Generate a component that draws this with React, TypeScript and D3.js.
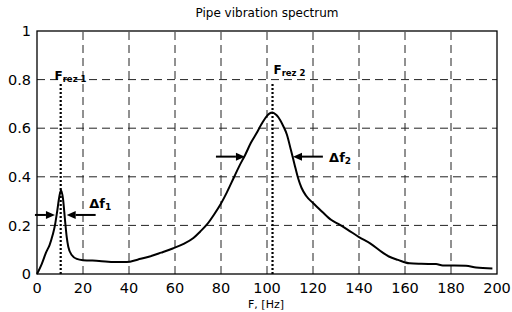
import * as d3 from "d3";

// spectrum
const freq = [
  0, 2, 4, 5.5, 6.8, 7.8, 8.8, 9.7, 10.4, 11.3, 12.2, 12.9, 13.6, 15.1, 17.3,
  20, 27, 34, 39, 44, 49, 54, 59, 64, 68, 71, 74, 77, 80, 82.5, 85.5, 88, 90.5,
  93, 95.5, 97.5, 99.5, 101, 102.4, 104, 105.7, 107, 108.6, 110.4, 112, 113.5,
  115, 117, 120, 124, 128, 131, 135, 140, 145, 150, 153, 157, 162, 167, 173.5,
  176.4, 186.5, 190.9, 198,
];
const amp = [
  0, 0.04, 0.09, 0.12, 0.16, 0.2, 0.26, 0.318, 0.345, 0.31, 0.22, 0.154, 0.112,
  0.078, 0.062, 0.057, 0.054, 0.049, 0.049, 0.06, 0.072, 0.088, 0.105, 0.125,
  0.148, 0.175, 0.205, 0.245, 0.29, 0.335, 0.395, 0.445, 0.49, 0.54, 0.58, 0.615,
  0.645, 0.66, 0.665, 0.655, 0.634, 0.61, 0.575, 0.51, 0.45, 0.395, 0.355, 0.322,
  0.292, 0.256, 0.222, 0.206, 0.183, 0.152, 0.125, 0.09, 0.072, 0.058, 0.044,
  0.042, 0.041, 0.035, 0.034, 0.027, 0.023,
];

const xTicks = [0, 20, 40, 60, 80, 100, 120, 140, 160, 180, 200];
const yTicks = [0, 0.2, 0.4, 0.6, 0.8, 1];

const resonances = [10.3, 102.4];
const resonanceTop = 0.79;
const resLabels = [
  { f: 7.6, v: 0.798, sub: "rez 1" },
  { f: 102.8, v: 0.822, sub: "rez 2" },
];

// bandwidth arrows: [from F, to F, level]
const arrows = [
  [-0.9, 7.8, 0.243],
  [25.5, 12.9, 0.243],
  [77.8, 90.4, 0.483],
  [124.3, 111.3, 0.483],
];
const bandLabels = [
  { f: 22.7, v: 0.27, sub: "1" },
  { f: 127, v: 0.462, sub: "2" },
];

const W = 512;
const H = 312;
const m = { top: 31, right: 15, bottom: 38, left: 37 };
const font = "'DejaVu Sans', sans-serif";

export default function App() {
  const x = d3.scaleLinear().domain([0, 200]).range([m.left, W - m.right]);
  const y = d3.scaleLinear().domain([0, 1]).range([H - m.bottom, m.top]);

  const line = d3
    .line<number>()
    .x((_, i) => x(freq[i]))
    .y((d) => y(d))
    .curve(d3.curveMonotoneX);

  const arrowPath = (a: number[]) => {
    const x0 = x(a[0]);
    const x1 = x(a[1]);
    const yy = y(a[2]);
    const dir = Math.sign(x1 - x0);
    const head = 9;
    return {
      shaft: `M${x0},${yy}L${x1 - dir * head},${yy}`,
      head: `M${x1},${yy}L${x1 - dir * head},${yy - 4}L${x1 - dir * head},${yy + 4}Z`,
    };
  };

  return (
    <svg
      width={W}
      height={H}
      style={{ position: "absolute", left: 0, top: 0, background: "#fff" }}
    >
      <rect width={W} height={H} fill="#fff" />
      <text x={(x(0) + x(200)) / 2} y={17} textAnchor="middle" fontFamily={font} fontSize={12}>
        Pipe vibration spectrum
      </text>

      {/* grid */}
      {xTicks.slice(1, -1).map((t) => (
        <line key={"gx" + t} x1={x(t)} x2={x(t)} y1={y(0)} y2={y(1)} stroke="#222" strokeDasharray="8,5" />
      ))}
      {yTicks.slice(1, -1).map((t) => (
        <line key={"gy" + t} x1={x(0)} x2={x(200)} y1={y(t)} y2={y(t)} stroke="#222" strokeDasharray="8,5" />
      ))}

      <rect x={x(0)} y={y(1)} width={x(200) - x(0)} height={y(0) - y(1)} fill="none" stroke="#000" strokeWidth={1.3} />

      {xTicks.map((t) => (
        <text key={"xt" + t} x={x(t)} y={293} textAnchor="middle" fontFamily={font} fontSize={14.5}>
          {t}
        </text>
      ))}
      {yTicks.map((t) => (
        <text key={"yt" + t} x={31} y={y(t)} dy="0.36em" textAnchor="end" fontFamily={font} fontSize={14.5}>
          {t}
        </text>
      ))}
      <text x={266} y={308} textAnchor="middle" fontFamily={font} fontSize={11}>
        F, [Hz]
      </text>

      {/* resonance markers */}
      {resonances.map((f) => (
        <line key={"r" + f} x1={x(f)} x2={x(f)} y1={y(0)} y2={y(resonanceTop)} stroke="#000" strokeWidth={2.2} strokeDasharray="2,2" />
      ))}

      <path d={line(amp) || ""} fill="none" stroke="#000" strokeWidth={2} />

      {resLabels.map((l) => (
        <text key={l.sub} x={x(l.f)} y={y(l.v)} fontFamily={font} fontWeight="bold" fontSize={12}>
          F
          <tspan fontSize={8.5} dy={2}>
            {l.sub}
          </tspan>
        </text>
      ))}

      {arrows.map((a, i) => {
        const p = arrowPath(a);
        return (
          <g key={"a" + i}>
            <path d={p.shaft} stroke="#000" strokeWidth={2} />
            <path d={p.head} fill="#000" />
          </g>
        );
      })}

      {bandLabels.map((l) => (
        <text key={"b" + l.sub} x={x(l.f)} y={y(l.v)} fontFamily={font} fontWeight="bold" fontSize={13}>
          Δf
          <tspan fontSize={9} dy={2}>
            {l.sub}
          </tspan>
        </text>
      ))}
    </svg>
  );
}
